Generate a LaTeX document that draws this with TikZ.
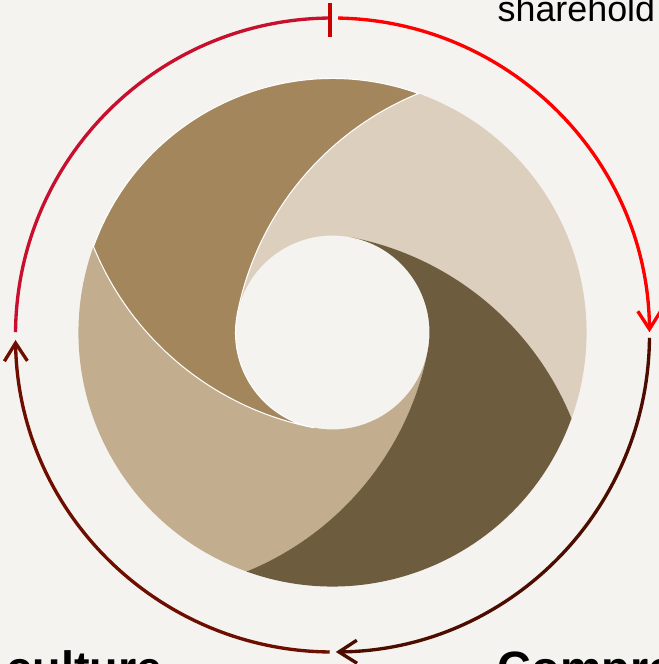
\documentclass[tikz,border=0pt]{standalone}
\usepackage{fontspec}
\setmainfont{Liberation Sans}
\usepackage{tikz}
\usetikzlibrary{arrows.meta,positioning}
\usepackage{xcolor}
\definecolor{pageBg}{RGB}{244,243,239}
\definecolor{lightTan}{RGB}{220,207,189}
\definecolor{midBrown}{RGB}{164,134,92}
\definecolor{sandTan}{RGB}{194,174,142}
\definecolor{darkBrown}{RGB}{109,92,62}
\definecolor{arcCrimson}{RGB}{200,16,46}
\definecolor{arcTick}{RGB}{200,0,0}
\definecolor{arcRed}{RGB}{255,0,0}
\definecolor{arcDark}{RGB}{76,12,0}
\definecolor{arcMaroon}{RGB}{110,14,0}
\tikzset{
    every node/.append style={align=center},
    ring/.style={line width=0.95pt,line cap=butt},
    ringarr/.style={ring,-{Straight Barb[length=1.8mm,width=2.3mm,line join=miter]}},
    lbl/.style={font=\fontsize{10.2}{12}\selectfont,inner sep=0pt,anchor=base west},
    head/.style={font=\bfseries\fontsize{13.3}{16}\selectfont,inner sep=0pt,anchor=base west}
}

\begin{document}
\begin{tikzpicture}
    \useasboundingbox[fill=pageBg] (-3.325,-3.315) rectangle (3.265,3.325);

    % swirl segments (brown one last, it carries the white edge)
    \foreach \t/\col/\edge in {79/lightTan/none, 259/sandTan/none, 349/darkBrown/none, 169/midBrown/white}{
        \filldraw[fill=\col,draw=\edge,line width=0.3pt]
            (\t:0.97) arc[start angle=\t, end angle=\t-56.8, radius=3]
            arc[start angle=\t-98.77, end angle=\t-8.77, radius=2.54]
            arc[start angle=\t+33.2, end angle=\t+90, radius=3]
            arc[start angle=\t+90, end angle=\t, radius=0.97] -- cycle;
    }

    % ring of arrows
    \begin{scope}[shift={(0,-0.025)}]
        \draw[ring,arcCrimson] (179.5:3.17) arc[start angle=179.5, end angle=90.5, radius=3.17];
        \draw[ring,arcTick] (-0.025,2.98) -- (-0.025,3.32);
        \draw[ringarr,arcRed] (89:3.17) arc[start angle=89, end angle=0.5, radius=3.17];
        \draw[ringarr,arcDark] (-0.5:3.17) arc[start angle=-0.5, end angle=-89.4, radius=3.17];
        \draw[ringarr,arcMaroon] (-90.5:3.17) arc[start angle=-90.5, end angle=-179.1, radius=3.17];
    \end{scope}

    % labels
    \node[lbl]  (share)   at (1.645,3.105)   {sharehold};
    \node[head] (culture) at (-3.265,-3.52)  {culture};
    \node[head] (compre)  at (1.645,-3.52)   {Compre};
\end{tikzpicture}
\end{document}
